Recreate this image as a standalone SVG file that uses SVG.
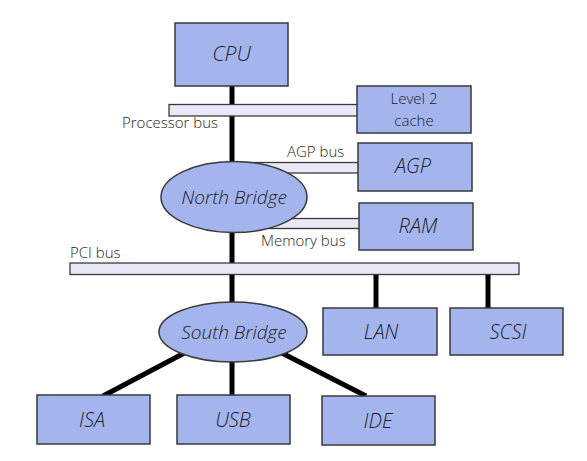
<svg xmlns="http://www.w3.org/2000/svg" width="587" height="461" viewBox="0 0 587 461">
<style>
.box{fill:#a4b4ec;stroke:#3a3a3a;stroke-width:1.5}
.bus{fill:#e8e8f6;stroke:#3a3a3a;stroke-width:1.3}
.wire{stroke:#000;stroke-width:5;fill:none}
.lbl{font-family:"Open Sans","DejaVu Sans",sans-serif;font-style:italic;font-weight:300;fill:#1e1e2a;text-anchor:middle}
.bl{font-family:"Open Sans","DejaVu Sans",sans-serif;font-weight:300;fill:#1e1e1e;font-size:15px}
</style>
<rect width="587" height="461" fill="#fff"/>
<g id="connectors">
<line class="wire" x1="232" y1="86" x2="232" y2="396"/>
<line class="wire" x1="376" y1="274" x2="376" y2="308"/>
<line class="wire" x1="488" y1="274" x2="488" y2="308"/>
<line class="wire" x1="190" y1="350" x2="103" y2="396"/>
<line class="wire" x1="276" y1="350" x2="366" y2="396"/>
<rect id="processor-bus" class="bus" x="169" y="104.5" width="190" height="11.5"/>
<rect id="agp-bus" class="bus" x="240" y="162.5" width="120" height="10.5"/>
<rect id="memory-bus" class="bus" x="240" y="218.5" width="120" height="10"/>
<rect id="pci-bus" class="bus" x="70" y="263" width="449" height="11.5"/>
<text class="bl" x="122" y="128">Processor bus</text>
<text class="bl" x="287" y="157">AGP bus</text>
<text class="bl" x="261" y="246">Memory bus</text>
<text class="bl" x="70" y="258">PCI bus</text>
</g>
<g id="cpu"><rect class="box" x="175" y="23" width="113" height="63"/><text class="lbl" x="231.5" y="61" font-size="21">CPU</text></g>
<g id="l2cache"><rect class="box" x="357" y="86" width="114" height="47"/>
<text class="bl" x="414" y="104" text-anchor="middle" font-size="15">Level 2</text>
<text class="bl" x="414" y="126" text-anchor="middle" font-size="15">cache</text></g>
<g id="agp"><rect class="box" x="358" y="143" width="114" height="48"/><text class="lbl" x="413" y="173" font-size="20">AGP</text></g>
<g id="ram"><rect class="box" x="359" y="203" width="114" height="47"/><text class="lbl" x="418" y="233" font-size="20">RAM</text></g>
<g id="north-bridge"><ellipse class="box" cx="234" cy="197" rx="73" ry="35.5"/><text class="lbl" x="234" y="204" font-size="19">North Bridge</text></g>
<g id="south-bridge"><ellipse class="box" cx="233" cy="332" rx="74" ry="30"/><text class="lbl" x="234" y="339" font-size="19">South Bridge</text></g>
<g id="lan"><rect class="box" x="323" y="308" width="114" height="47"/><text class="lbl" x="381" y="339" font-size="20">LAN</text></g>
<g id="scsi"><rect class="box" x="450" y="308" width="113" height="47"/><text class="lbl" x="508" y="339" font-size="20">SCSI</text></g>
<g id="isa"><rect class="box" x="37" y="395" width="113" height="49"/><text class="lbl" x="92" y="427" font-size="20">ISA</text></g>
<g id="usb"><rect class="box" x="177" y="395" width="113" height="49"/><text class="lbl" x="233" y="427" font-size="20">USB</text></g>
<g id="ide"><rect class="box" x="322" y="396" width="113" height="49"/><text class="lbl" x="378" y="428" font-size="20">IDE</text></g>
</svg>
